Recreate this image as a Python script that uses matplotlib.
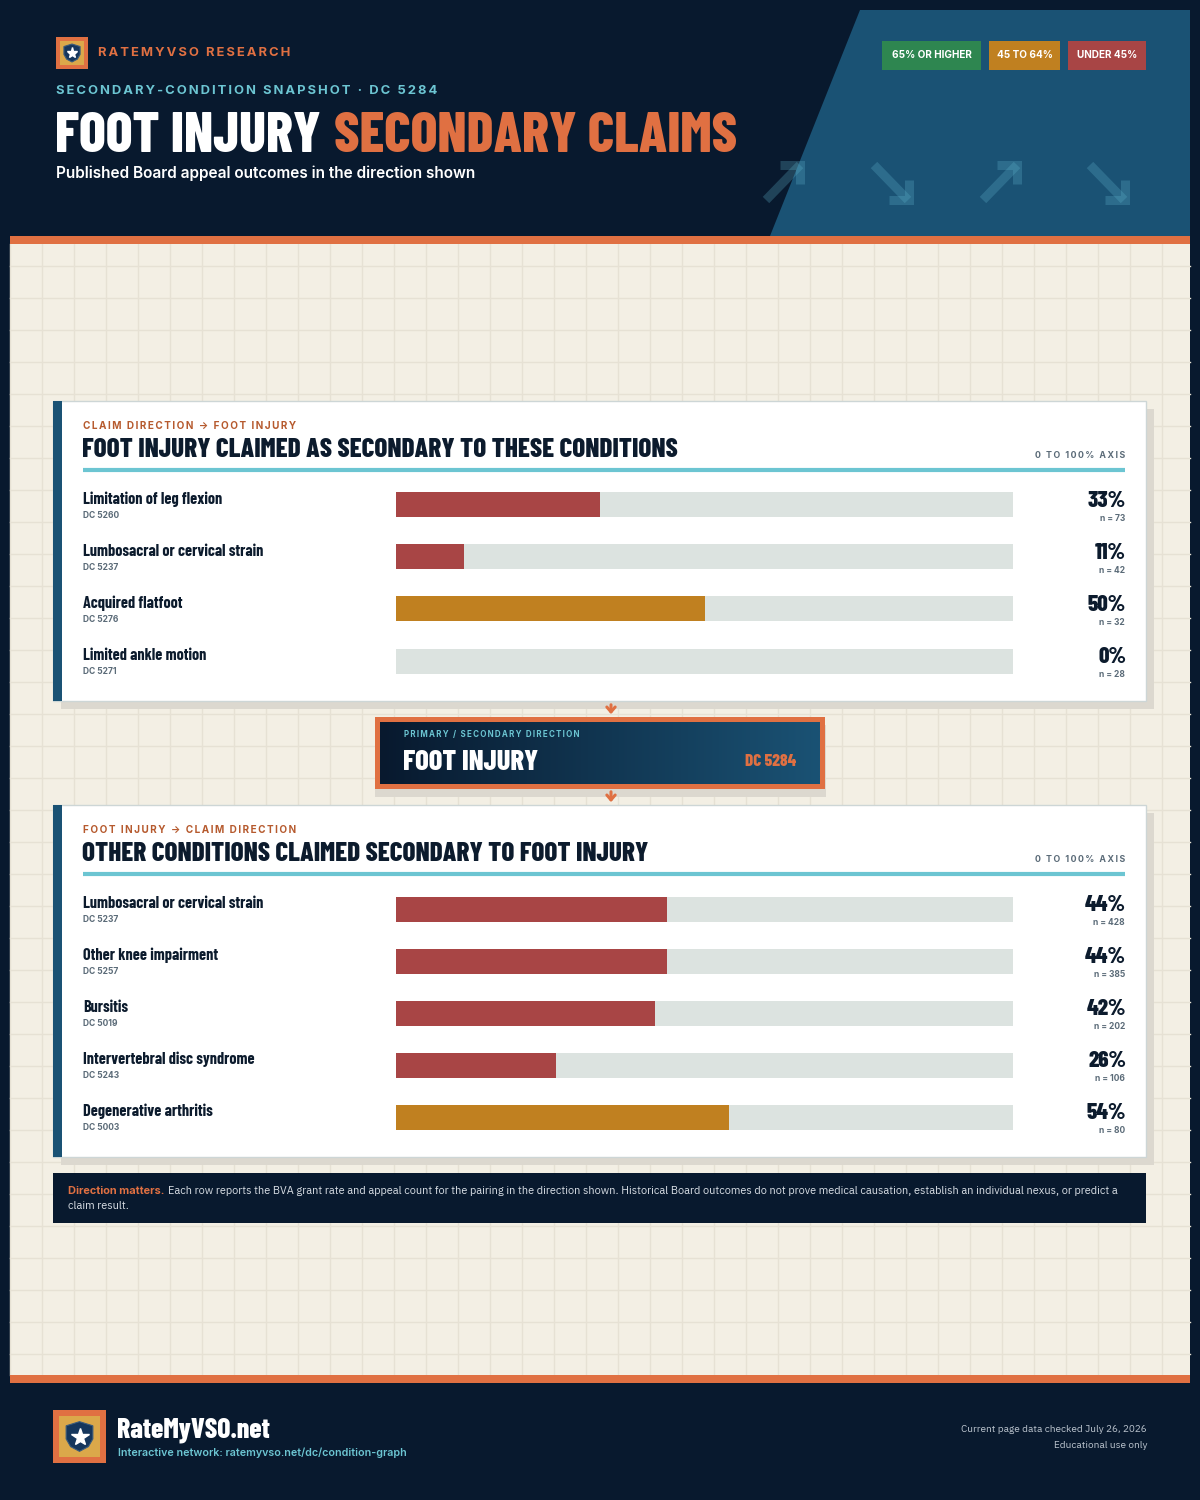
import matplotlib
matplotlib.use("Agg")
import matplotlib.pyplot as plt
from matplotlib import font_manager
from matplotlib.patches import Rectangle, Polygon
import numpy as np

# ---- data ----
top_labels = ["Limitation of leg flexion", "Lumbosacral or cervical strain",
              "Acquired flatfoot", "Limited ankle motion"]
top_codes = ["DC 5260", "DC 5237", "DC 5276", "DC 5271"]
top_rates = [33, 11, 50, 0]
top_counts = [73, 42, 32, 28]

bottom_labels = ["Lumbosacral or cervical strain", "Other knee impairment", "Bursitis",
                 "Intervertebral disc syndrome", "Degenerative arthritis"]
bottom_codes = ["DC 5237", "DC 5257", "DC 5019", "DC 5243", "DC 5003"]
bottom_rates = [44, 44, 42, 26, 54]
bottom_counts = [428, 385, 202, 106, 80]

legend_labels = ["65% OR HIGHER", "45 TO 64%", "UNDER 45%"]

# ---- colours ----
NAVY = "#08192e"
BLUE = "#1a5274"
ORANGE = "#e07042"
RUST = "#b65a2e"
TEAL = "#6cc5d2"
CREAM = "#f3efe4"
GRID = "#e6e1d4"
RED = "#a84545"
GOLD = "#c08020"
GREEN = "#2e8650"
TRACK = "#dce3e0"
INK = "#0c1b2d"
GREY = "#5b6b78"
SHADOW = "#dcd8cf"
LOGO_GOLD = "#dba84a"

fonts = font_manager.fontManager.ttflist
installed = {f.name for f in fonts}


def pick(*cands):
    for c in cands:
        if c in installed:
            return c
    return "DejaVu Sans"


def pick_w(minw, *cands):
    # first family that really ships a heavy enough face
    for c in cands:
        if any(f.name == c and int(f.weight) >= minw for f in fonts):
            return c
    return "DejaVu Sans"


COND_HEAVY = pick("Barlow Condensed ExtraBold", "Barlow Condensed Black", "Barlow Condensed",
                  "Roboto Condensed", "Oswald", "Liberation Sans Narrow")
COND_BOLD = pick_w(700, "Barlow Condensed", "Roboto Condensed", "Liberation Sans Narrow")
if COND_BOLD == "DejaVu Sans":
    COND_BOLD = pick("Barlow Condensed SemiBold", "Barlow Condensed", "Roboto Condensed")
BODY = pick("IBM Plex Sans", "Roboto", "Noto Sans")
BODY_BOLD = pick_w(700, "IBM Plex Sans", "IBM Plex Sans Bold", "Inter", "Roboto", "Lato",
                   "Noto Sans", "Open Sans")
BODY_SEMI = pick("IBM Plex Sans SemiBold")
if BODY_SEMI == "DejaVu Sans":
    BODY_SEMI = pick_w(600, "IBM Plex Sans", "Inter", "Roboto", "Lato", "Noto Sans", "Open Sans")


def rate_color(v):
    if v >= 65:
        return GREEN
    if v >= 45:
        return GOLD
    return RED


W, H = 1200, 1500
fig = plt.figure(figsize=(12, 15), dpi=100, facecolor=NAVY)
bg = fig.add_axes([0, 0, 1, 1])
bg.set_xlim(0, W)
bg.set_ylim(H, 0)
bg.axis("off")
renderer = fig.canvas.get_renderer()


def T(x, y, s, size, color=INK, family=BODY, weight="normal", ha="left", va="center", **kw):
    # size given in pixels
    return bg.text(x, y, s, fontsize=size * 0.72, color=color, family=[family, "DejaVu Sans"],
                   fontweight=weight, ha=ha, va=va, **kw)


def tracked(x, y, s, size, width, color, family, weight="bold", ha="left", **kw):
    # letter-spaced caps: pad with hair spaces until the run is as wide as in the reference
    best = None
    for n in range(0, 8):
        t = T(x, y, ("\u200a" * n).join(s), size, color, family, weight, ha=ha, **kw)
        w = t.get_window_extent(renderer).width
        err = abs(w - width)
        if best is None or err < best[0]:
            if best is not None:
                best[1].remove()
            best = (err, t)
        else:
            t.remove()
    return best[1]


def box(x, y, w, h, color, z=1, **kw):
    bg.add_patch(Rectangle((x, y), w, h, facecolor=color, zorder=z, **kw))


def shield(cx, cy, s, z=5):
    pts = np.array([(-0.45, -0.36), (0, -0.5), (0.45, -0.36), (0.45, 0.08), (0.3, 0.34),
                    (0, 0.5), (-0.3, 0.34), (-0.45, 0.08)]) * s
    bg.add_patch(Polygon(pts + [cx, cy], closed=True, facecolor="#15365c",
                         edgecolor="#3a5b7c", lw=0.8, zorder=z))
    bg.plot(cx, cy + 0.02 * s, marker="*", ms=s * 0.62 * 0.72, color="white",
            mec="white", zorder=z + 1)


def logo(x, y, s):
    b = s * 0.12
    box(x, y, s, s, ORANGE, z=4)
    box(x + b, y + b, s - 2 * b, s - 2 * b, LOGO_GOLD, z=4)
    shield(x + s / 2, y + s / 2, s * 0.56)


# ---- page background ----
box(10, 244, 1180, 1131, CREAM, z=0.5)
for gx in range(10, 1191, 32):
    bg.plot([gx, gx], [244, 1375], color=GRID, lw=1, zorder=0.6)
for gy in range(10 + 32 * 8, 1375, 32):
    bg.plot([10, 1190], [gy, gy], color=GRID, lw=1, zorder=0.6)
box(10, 236, 1180, 8, ORANGE, z=2)
box(10, 1375, 1180, 8, ORANGE, z=2)

# ---- header ----
bg.add_patch(Polygon([(860, 10), (1190, 10), (1190, 236), (770, 236)], closed=True,
                     facecolor=BLUE, zorder=1))
arrows = [(783, 182, 1), (891, 182, -1), (1000, 182, 1), (1107, 182, -1)]
for cx, cy, d in arrows:
    if d > 0:
        shaft = ([cx - 17, cx + 17], [cy + 18, cy - 17])
        head = ([cx - 3, cx + 17, cx + 17], [cy - 17, cy - 17, cy + 2])
    else:
        shaft = ([cx - 17, cx + 17], [cy - 17, cy + 18])
        head = ([cx - 2, cx + 18, cx + 18], [cy + 18, cy + 18, cy - 2])
    for xs, ys in (shaft, head):
        bg.plot(xs, ys, color="#5fb3cc", alpha=0.28, lw=6.5, solid_capstyle="butt",
                solid_joinstyle="miter", zorder=2)

logo(56, 37, 32)
tracked(98, 53.5, "RATEMYVSO RESEARCH", 13, 191, ORANGE, BODY_BOLD)
tracked(56, 90.5, "SECONDARY-CONDITION SNAPSHOT · DC 5284", 13, 387, TEAL, BODY_BOLD)
t1 = T(55, 137, "FOOT INJURY", 56, "white", COND_HEAVY, "heavy")
bb = t1.get_window_extent(renderer)
T(bb.x1 + 13, 137, "SECONDARY CLAIMS", 56, ORANGE, COND_HEAVY, "heavy")
T(56, 173.5, "Published Board appeal outcomes in the direction shown", 15.4, "white",
  BODY_SEMI, "semibold")

legend_colors = [GREEN, GOLD, RED]
legend_x = [(882, 99), (989, 71), (1068, 78)]
for (lx, lw), lab, c in zip(legend_x, legend_labels, legend_colors):
    box(lx, 41, lw, 29, c, z=3)
    T(lx + lw / 2, 55.5, lab, 10, "white", BODY_BOLD, "bold", ha="center")


# ---- panels ----
def panel(y0, y1, eyebrow, heading, labels, codes, rates, counts):
    box(61, y0 + 8, 1093, y1 - y0, SHADOW, z=1)
    box(53, y0, 1093, y1 - y0, "white", z=1.2, edgecolor="#cdd6d6", lw=1)
    box(53, y0, 9, y1 - y0, BLUE, z=1.3)
    tracked(83, y0 + 24.5, eyebrow, 10, 215, RUST, BODY_BOLD)
    T(82, y0 + 49, heading, 27, INK, COND_HEAVY, "heavy")
    tracked(1125, y0 + 54.5, "0 TO 100% AXIS", 8.8, 87, GREY, BODY_BOLD, ha="right")
    bg.plot([83, 1125], [y0 + 69, y0 + 69], color=TEAL, lw=3, zorder=2, solid_capstyle="butt")

    n = len(labels)
    r0, step = y0 + 104, 52
    for i in range(n):
        yc = r0 + i * step
        T(83, yc - 6, labels[i], 16.2, INK, COND_BOLD, "bold")
        T(83, yc + 10.5, codes[i], 8.5, GREY, BODY_BOLD, "bold")
        T(1126, yc - 4, f"{rates[i]}%", 23, INK, COND_HEAVY, "heavy", ha="right")
        T(1125, yc + 13.5, f"n = {counts[i]}", 8.5, GREY, BODY_BOLD, "bold", ha="right")

    top = r0 - step / 2
    ax = fig.add_axes([396 / W, 1 - (top + n * step) / H, 617 / W, n * step / H])
    ax.set_facecolor("none")
    idx = np.arange(n)
    hgt = 25 / step
    ax.barh(idx, [100] * n, height=hgt, color=TRACK, zorder=1)
    ax.barh(idx, rates, height=hgt, color=[rate_color(v) for v in rates], zorder=2)
    ax.set_xlim(0, 100)
    ax.set_ylim(n - 0.5, -0.5)
    ax.axis("off")


panel(401, 701, "CLAIM DIRECTION → FOOT INJURY",
      "FOOT INJURY CLAIMED AS SECONDARY TO THESE CONDITIONS",
      top_labels, top_codes, top_rates, top_counts)
panel(805, 1157, "FOOT INJURY → CLAIM DIRECTION",
      "OTHER CONDITIONS CLAIMED SECONDARY TO FOOT INJURY",
      bottom_labels, bottom_codes, bottom_rates, bottom_counts)

# ---- centre node ----
box(375, 725, 451, 72, SHADOW, z=1.5)
box(375, 717, 450, 72, ORANGE, z=3)
grad = np.linspace(0, 1, 256)
c0 = np.array(matplotlib.colors.to_rgb("#08192e"))
c1 = np.array(matplotlib.colors.to_rgb("#1a5274"))
img = (c0[None, :] * (1 - grad[:, None]) + c1[None, :] * grad[:, None])[None, :, :]
bg.imshow(img, extent=(380, 820, 784, 722), aspect="auto", zorder=3.5)
bg.set_xlim(0, W)
bg.set_ylim(H, 0)
tracked(404, 734.5, "PRIMARY / SECONDARY DIRECTION", 8, 180, TEAL, BODY_BOLD, zorder=4)
T(403, 763, "FOOT INJURY", 28.5, "white", COND_HEAVY, "heavy", zorder=4)
T(796, 761.5, "DC 5284", 17, ORANGE, COND_HEAVY, "heavy", ha="right", zorder=4)
for ya, yb in ((702, 717), (789, 805)):
    bg.annotate("", xy=(611, yb), xytext=(611, ya),
                arrowprops=dict(arrowstyle="->,head_length=0.35,head_width=0.3",
                                color=ORANGE, lw=2.2), zorder=4)

# ---- note ----
box(53, 1173, 1093, 50, NAVY, z=2)
n1 = T(68, 1191, "Direction matters.", 11, ORANGE, BODY_BOLD, "bold", zorder=3)
nb = n1.get_window_extent(renderer)
T(nb.x1 + 4, 1191, "Each row reports the BVA grant rate and appeal count for the pairing in the "
  "direction shown. Historical Board outcomes do not prove medical causation, establish an "
  "individual nexus, or predict a", 11, "#d5dbe2", BODY, zorder=3)
T(68, 1206, "claim result.", 11, "#d5dbe2", BODY, zorder=3)

# ---- footer ----
logo(53, 1410, 53)
T(117, 1430, "RateMyVSO.net", 27.5, "white", COND_HEAVY, "heavy")
T(118, 1453, "Interactive network: ratemyvso.net/dc/condition-graph", 10.7, TEAL, BODY_SEMI, "semibold")
T(1147, 1430, "Current page data checked July 26, 2026", 10, "#b9c2cc", BODY, ha="right")
T(1147, 1445, "Educational use only", 10, "#b9c2cc", BODY, ha="right")

fig.savefig("out.png", dpi=100, facecolor=NAVY)
